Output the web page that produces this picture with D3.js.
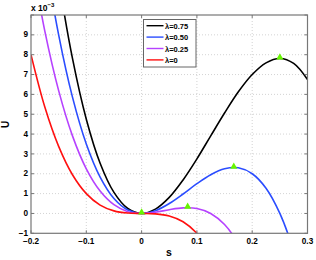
<!DOCTYPE html>
<html lang="en">
<head>
    <meta charset="UTF-8">
    <title>U vs s</title>
    <script src="https://d3js.org/d3.v7.min.js"></script>
    <style>
        body { margin: 0; background: #fff; }
        text { font-family: "Liberation Sans", Arial, sans-serif; font-weight: bold; }
    </style>
</head>
<body>
<svg width="316" height="260"></svg>
<script>
    // s values (x axis)
    let sValues = [-0.2, -0.175, -0.15, -0.125, -0.1, -0.075, -0.05, -0.025, 0,
        0.025, 0.05, 0.075, 0.1, 0.125, 0.15, 0.175, 0.2, 0.225, 0.25, 0.275, 0.3]
    // U values, in units of 1e-3
    let u075 = [23.0, 16.84, 11.81, 7.81, 4.75, 2.53, 1.06, 0.25, 0,
        0.22, 0.81, 1.69, 2.75, 3.91, 5.06, 6.13, 7.0, 7.59, 7.81, 7.56, 6.75]
    let u050 = [18.0, 13.02, 9.0, 5.86, 3.5, 1.83, 0.75, 0.17, 0,
        0.14, 0.5, 0.98, 1.5, 1.95, 2.25, 2.30, 2.0, 1.27, 0, -1.89, -4.5]
    let u025 = [13.0, 9.19, 6.19, 3.91, 2.25, 1.13, 0.44, 0.09, 0,
        0.06, 0.19, 0.28, 0.25, 0, -0.56, -1.53, -3.0, -5.06, -7.81, -11.34, -15.75]
    let u000 = [8.0, 5.36, 3.38, 1.95, 1.0, 0.42, 0.13, 0.02, 0,
        -0.02, -0.13, -0.42, -1.0, -1.95, -3.38, -5.36, -8.0, -11.39, -15.63, -20.8, -27.0]

    let seriesNames = ['\u03bb=0.75', '\u03bb=0.50', '\u03bb=0.25', '\u03bb=0']
    let seriesColors = ['#000000', '#2b4dff', '#b642ff', '#ff1010']
    let seriesValues = [u075, u050, u025, u000]

    // maxima markers
    let peakS = [0.25, 0.1667, 0.0833, 0]
    let peakU = [7.81, 2.31, 0.29, 0]

    let xTicks = [-0.2, -0.1, 0, 0.1, 0.2, 0.3]
    let yTicks = [-1, 0, 1, 2, 3, 4, 5, 6, 7, 8, 9, 10]

    let svg = d3.select('svg')
    let pLeft = 31, pRight = 307.5, pTop = 15, pBottom = 233.3

    let x = d3.scaleLinear().domain([-0.2, 0.3]).range([pLeft, pRight])
    let y = d3.scaleLinear().domain([-1, 10]).range([pBottom, pTop])

    svg.append('rect').attr('width', 316).attr('height', 260).attr('fill', '#fff')

    // grid
    let grid = svg.append('g')
    grid.selectAll('.gx').data(xTicks.slice(1, -1)).enter().append('line')
        .attr('x1', d => x(d)).attr('x2', d => x(d))
        .attr('y1', pTop).attr('y2', pBottom)
        .attr('stroke', '#c8c8c8').attr('stroke-width', 0.8).attr('stroke-dasharray', '1,2')
    grid.selectAll('.gy').data(yTicks.slice(1, -1)).enter().append('line')
        .attr('x1', pLeft).attr('x2', pRight)
        .attr('y1', d => y(d)).attr('y2', d => y(d))
        .attr('stroke', '#c8c8c8').attr('stroke-width', 0.8).attr('stroke-dasharray', '1,2')

    svg.append('clipPath').attr('id', 'clip')
        .append('rect').attr('x', pLeft).attr('y', pTop)
        .attr('width', pRight - pLeft).attr('height', pBottom - pTop)

    let line = d3.line()
        .x(d => x(d[0]))
        .y(d => y(d[1]))
        .curve(d3.curveCatmullRom)

    let plot = svg.append('g').attr('clip-path', 'url(#clip)')
    plot.selectAll('.curve').data(seriesValues).enter().append('path')
        .attr('d', vals => line(sValues.map((s, i) => [s, vals[i]])))
        .attr('fill', 'none')
        .attr('stroke', (d, i) => seriesColors[i])
        .attr('stroke-width', 1.6)

    let tri = d3.symbol().type(d3.symbolTriangle).size(22)
    plot.selectAll('.peak').data(peakS).enter().append('path')
        .attr('d', tri)
        .attr('transform', (d, i) => `translate(${x(d)},${y(peakU[i]) - 1})`)
        .attr('fill', '#66f500')

    // axes frame
    svg.append('rect')
        .attr('x', pLeft).attr('y', pTop)
        .attr('width', pRight - pLeft).attr('height', pBottom - pTop)
        .attr('fill', 'none').attr('stroke', '#777').attr('stroke-width', 1.2)

    // ticks pointing inward
    let ax = svg.append('g').attr('stroke', '#777').attr('stroke-width', 1)
    ax.selectAll('.tx').data(xTicks).enter().append('line')
        .attr('x1', d => x(d)).attr('x2', d => x(d))
        .attr('y1', pBottom).attr('y2', pBottom - 3)
    ax.selectAll('.tx2').data(xTicks).enter().append('line')
        .attr('x1', d => x(d)).attr('x2', d => x(d))
        .attr('y1', pTop).attr('y2', pTop + 3)
    ax.selectAll('.ty').data(yTicks).enter().append('line')
        .attr('x1', pLeft).attr('x2', pLeft + 3)
        .attr('y1', d => y(d)).attr('y2', d => y(d))
    ax.selectAll('.ty2').data(yTicks).enter().append('line')
        .attr('x1', pRight).attr('x2', pRight - 3)
        .attr('y1', d => y(d)).attr('y2', d => y(d))

    // tick labels
    svg.selectAll('.lx').data(xTicks).enter().append('text')
        .attr('x', d => x(d)).attr('y', 244)
        .attr('text-anchor', 'middle').attr('font-size', 8.2)
        .text(d => d === 0 ? '0' : d3.format('.1f')(d).replace('-', '\u2212'))
    svg.selectAll('.ly').data(yTicks.slice(0, -1)).enter().append('text')
        .attr('x', 28).attr('y', d => y(d) + 2.6)
        .attr('text-anchor', 'end').attr('font-size', 8.2)
        .text(d => String(d).replace('-', '\u2212'))

    // exponent
    let ex = svg.append('text').attr('x', 31).attr('y', 11).attr('font-size', 8.5)
    ex.append('tspan').text('x 10')
    ex.append('tspan').attr('dy', -4).attr('font-size', 6).text('\u22123')

    // axis labels
    svg.append('text').attr('x', 169).attr('y', 256)
        .attr('text-anchor', 'middle').attr('font-size', 10.5).text('s')
    svg.append('text')
        .attr('transform', 'translate(9,124.5) rotate(-90)')
        .attr('text-anchor', 'middle').attr('font-size', 10).text('U')

    // legend
    let lg = svg.append('g')
    lg.append('rect').attr('x', 143.5).attr('y', 19.5).attr('width', 52.5).attr('height', 47.5)
        .attr('fill', '#fff').attr('stroke', '#666').attr('stroke-width', 1)
    let rows = lg.selectAll('.row').data(seriesNames).enter().append('g')
        .attr('transform', (d, i) => `translate(0,${25.7 + i * 11.4})`)
    rows.append('line').attr('x1', 146.5).attr('x2', 163.5)
        .attr('stroke', (d, i) => seriesColors[i]).attr('stroke-width', 1.4)
    rows.append('text').attr('x', 165).attr('y', 3).attr('font-size', 7.5).text(d => d)
</script>
</body>
</html>
